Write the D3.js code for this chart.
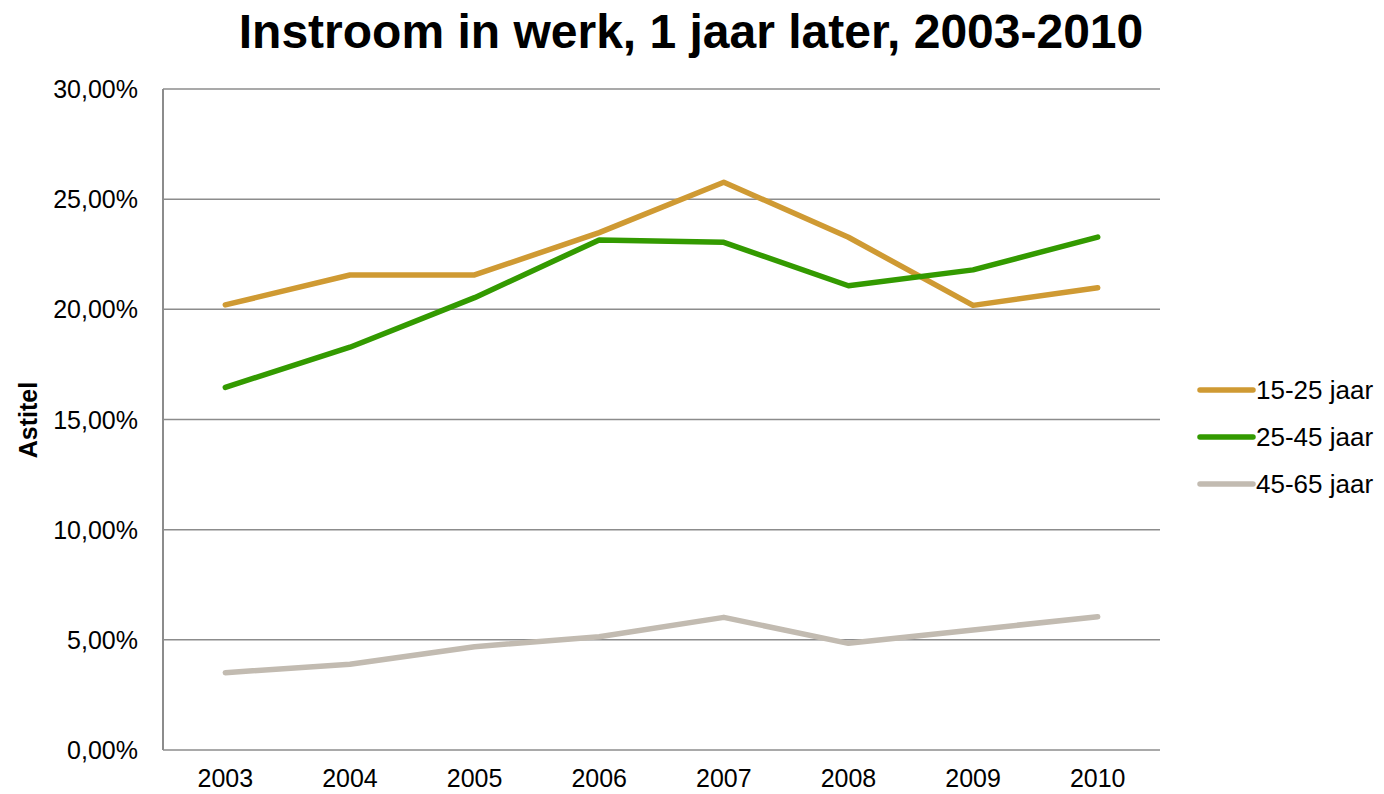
<!DOCTYPE html>
<html lang="nl">
<head>
    <meta charset="UTF-8">
    <title>Instroom in werk, 1 jaar later, 2003-2010</title>
    <script src="https://d3js.org/d3.v7.min.js"></script>
    <style>
        body {
            margin: 0;
            background: #fff;
            font-family: "Liberation Sans", Arial, sans-serif;
        }
        .grid line { stroke: #8c8c8c; stroke-width: 1.5px; }
        .tick-label { font-size: 25px; fill: #000; }
        .x-label { font-size: 25px; fill: #000; }
        .legend-label { font-size: 26px; fill: #000; }
    </style>
</head>
<body>
    <svg id="chart" width="1384" height="794"></svg>
    <script>
        // Data
        const years = ["2003", "2004", "2005", "2006", "2007", "2008", "2009", "2010"];
        const seriesNames = ["15-25 jaar", "25-45 jaar", "45-65 jaar"];
        const seriesColors = ["#cf9a33", "#339a00", "#c2bbb1"];
        const jong = [20.2, 21.56, 21.56, 23.48, 25.77, 23.27, 20.18, 20.98];
        const midden = [16.46, 18.28, 20.53, 23.15, 23.04, 21.07, 21.79, 23.28];
        const oud = [3.51, 3.89, 4.69, 5.14, 6.02, 4.84, 5.45, 6.05];
        const yTicks = [0, 5, 10, 15, 20, 25, 30];

        const series = [jong, midden, oud].map((vals, i) => ({
            name: seriesNames[i],
            color: seriesColors[i],
            values: vals
        }));

        const svg = d3.select("#chart");
        const plotLeft = 163, plotRight = 1160, plotTop = 89, plotBottom = 750;

        const x = d3.scaleBand().domain(years).range([plotLeft, plotRight]);
        const y = d3.scaleLinear().domain([0, 30]).range([plotBottom, plotTop]);

        // Title
        svg.append("text")
            .attr("x", 691)
            .attr("y", 48)
            .attr("text-anchor", "middle")
            .style("font-size", "48px")
            .style("font-weight", "bold")
            .text("Instroom in werk, 1 jaar later, 2003-2010");

        // Gridlines
        svg.append("g")
            .attr("class", "grid")
            .selectAll("line")
            .data(yTicks)
            .join("line")
            .attr("x1", plotLeft)
            .attr("x2", plotRight)
            .attr("y1", d => y(d))
            .attr("y2", d => y(d));

        // Y axis line
        svg.append("line")
            .attr("x1", plotLeft).attr("x2", plotLeft)
            .attr("y1", plotTop).attr("y2", plotBottom)
            .attr("stroke", "#8c8c8c")
            .attr("stroke-width", 2);

        // Y tick labels
        const fmt = d => d3.format(".2f")(d).replace(".", ",") + "%";
        svg.selectAll(".ylab")
            .data(yTicks)
            .join("text")
            .attr("class", "tick-label")
            .attr("x", 138)
            .attr("y", d => y(d) + 9)
            .attr("text-anchor", "end")
            .text(fmt);

        // X tick labels
        svg.selectAll(".xlab")
            .data(years)
            .join("text")
            .attr("class", "x-label")
            .attr("x", d => x(d) + x.bandwidth() / 2)
            .attr("y", 787)
            .attr("text-anchor", "middle")
            .text(d => d);

        // Axis title
        svg.append("text")
            .attr("transform", "translate(37,420) rotate(-90)")
            .attr("text-anchor", "middle")
            .style("font-size", "25px")
            .style("font-weight", "bold")
            .text("Astitel");

        // Lines
        const line = d3.line()
            .x((d, i) => x(years[i]) + x.bandwidth() / 2)
            .y(d => y(d));

        svg.selectAll(".serie")
            .data(series)
            .join("path")
            .attr("fill", "none")
            .attr("stroke", d => d.color)
            .attr("stroke-width", 5.5)
            .attr("stroke-linecap", "round")
            .attr("stroke-linejoin", "round")
            .attr("d", d => line(d.values));

        // Legend
        const legend = svg.selectAll(".legend")
            .data(series)
            .join("g")
            .attr("transform", (d, i) => `translate(1200,${390 + i * 47})`);

        legend.append("line")
            .attr("x1", 0).attr("x2", 53)
            .attr("stroke", d => d.color)
            .attr("stroke-width", 5.5)
            .attr("stroke-linecap", "round");

        legend.append("text")
            .attr("class", "legend-label")
            .attr("x", 56)
            .attr("y", 9)
            .text(d => d.name);
    </script>
</body>
</html>
